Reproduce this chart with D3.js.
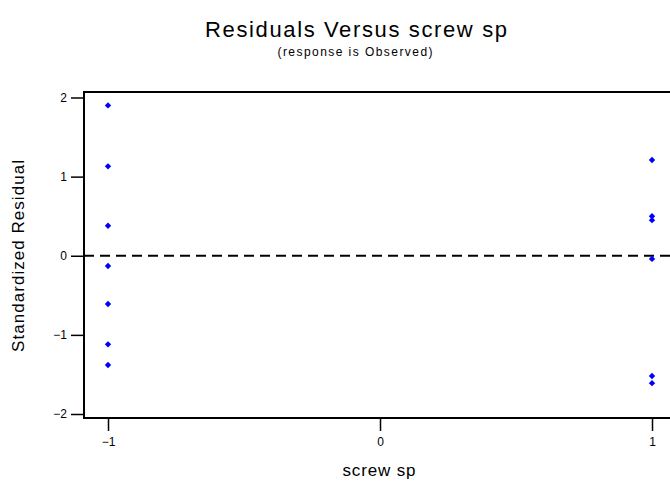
<!DOCTYPE html>
<html><head><meta charset="utf-8">
<script src="https://cdn.jsdelivr.net/npm/d3@7"></script>
<style>html,body{margin:0;padding:0;background:#fff;}svg{display:block;font-family:Arial,"Liberation Sans",sans-serif;}</style>
</head><body>
<script>
const title = "Residuals Versus screw sp";
const subtitle = "(response is Observed)";
const xLabel = "screw sp";
const yLabel = "Standardized Residual";
const xTicks = [-1, 0, 1];
const yTicks = [-2, -1, 0, 1, 2];
const xLow = [-1, -1, -1, -1, -1, -1, -1];
const yLow = [1.90, 1.13, 0.38, -0.13, -0.61, -1.12, -1.38];
const xHigh = [1, 1, 1, 1, 1, 1];
const yHigh = [1.21, 0.50, 0.45, -0.04, -1.52, -1.61];

const W = 670, H = 481;
const svg = d3.select("body").append("svg").attr("width", W).attr("height", H);
const x = d3.scaleLinear().domain([-1, 1]).range([108, 652]);
const y = d3.scaleLinear().domain([-2, 2]).range([414, 97.5]);
const frame = {left: 84, top: 92, bottom: 418, right: 720};

// frame
svg.append("path")
  .attr("d", `M${frame.right},${frame.top}H${frame.left}V${frame.bottom}H${frame.right}`)
  .attr("fill", "none").attr("stroke", "#000").attr("stroke-width", 2);

// y axis
const yAxis = d3.axisLeft(y).tickValues(yTicks).tickFormat(d3.format("d")).tickSize(13).tickPadding(4);
const gy = svg.append("g").attr("transform", `translate(${frame.left},0)`).call(yAxis);
gy.select(".domain").remove();
gy.selectAll(".tick line").attr("stroke-width", 1.5);
gy.selectAll("text").attr("font-size", 12).attr("font-family", "Arial, 'Liberation Sans', sans-serif").attr("fill", "#000");

// x axis
const xAxis = d3.axisBottom(x).tickValues(xTicks).tickFormat(d3.format("d")).tickSize(13).tickPadding(6);
const gx = svg.append("g").attr("transform", `translate(0,${frame.bottom})`).call(xAxis);
gx.select(".domain").remove();
gx.selectAll(".tick line").attr("stroke-width", 1.5);
gx.selectAll("text").attr("font-size", 12).attr("font-family", "Arial, 'Liberation Sans', sans-serif").attr("fill", "#000");

// reference line at 0
svg.append("line")
  .attr("x1", frame.left).attr("x2", W).attr("y1", y(0)).attr("y2", y(0))
  .attr("stroke", "#000").attr("stroke-width", 2).attr("stroke-dasharray", "10,6");

// points
const pts = xLow.map((v, i) => ({x: v, y: yLow[i]})).concat(xHigh.map((v, i) => ({x: v, y: yHigh[i]})));
const diamond = d3.symbol().type(d3.symbolDiamond2 || d3.symbolDiamond).size(26);
svg.append("g").selectAll("path").data(pts).join("path")
  .attr("d", diamond)
  .attr("transform", d => `translate(${x(d.x)},${y(d.y)})`)
  .attr("fill", "#0000ff");

// texts
svg.append("text").attr("x", 356).attr("y", 37).attr("text-anchor", "middle")
  .attr("font-size", 22).attr("textLength", 302).attr("lengthAdjust", "spacing").text(title);
svg.append("text").attr("x", 355).attr("y", 56).attr("text-anchor", "middle")
  .attr("font-size", 12).attr("textLength", 155).attr("lengthAdjust", "spacing").text(subtitle);
svg.append("text").attr("x", 379).attr("y", 476).attr("text-anchor", "middle")
  .attr("font-size", 17).attr("textLength", 73).attr("lengthAdjust", "spacing").text(xLabel);
svg.append("text").attr("transform", `translate(24,256) rotate(-90)`).attr("text-anchor", "middle")
  .attr("font-size", 17).attr("textLength", 192).attr("lengthAdjust", "spacing").text(yLabel);
</script>
</body></html>
